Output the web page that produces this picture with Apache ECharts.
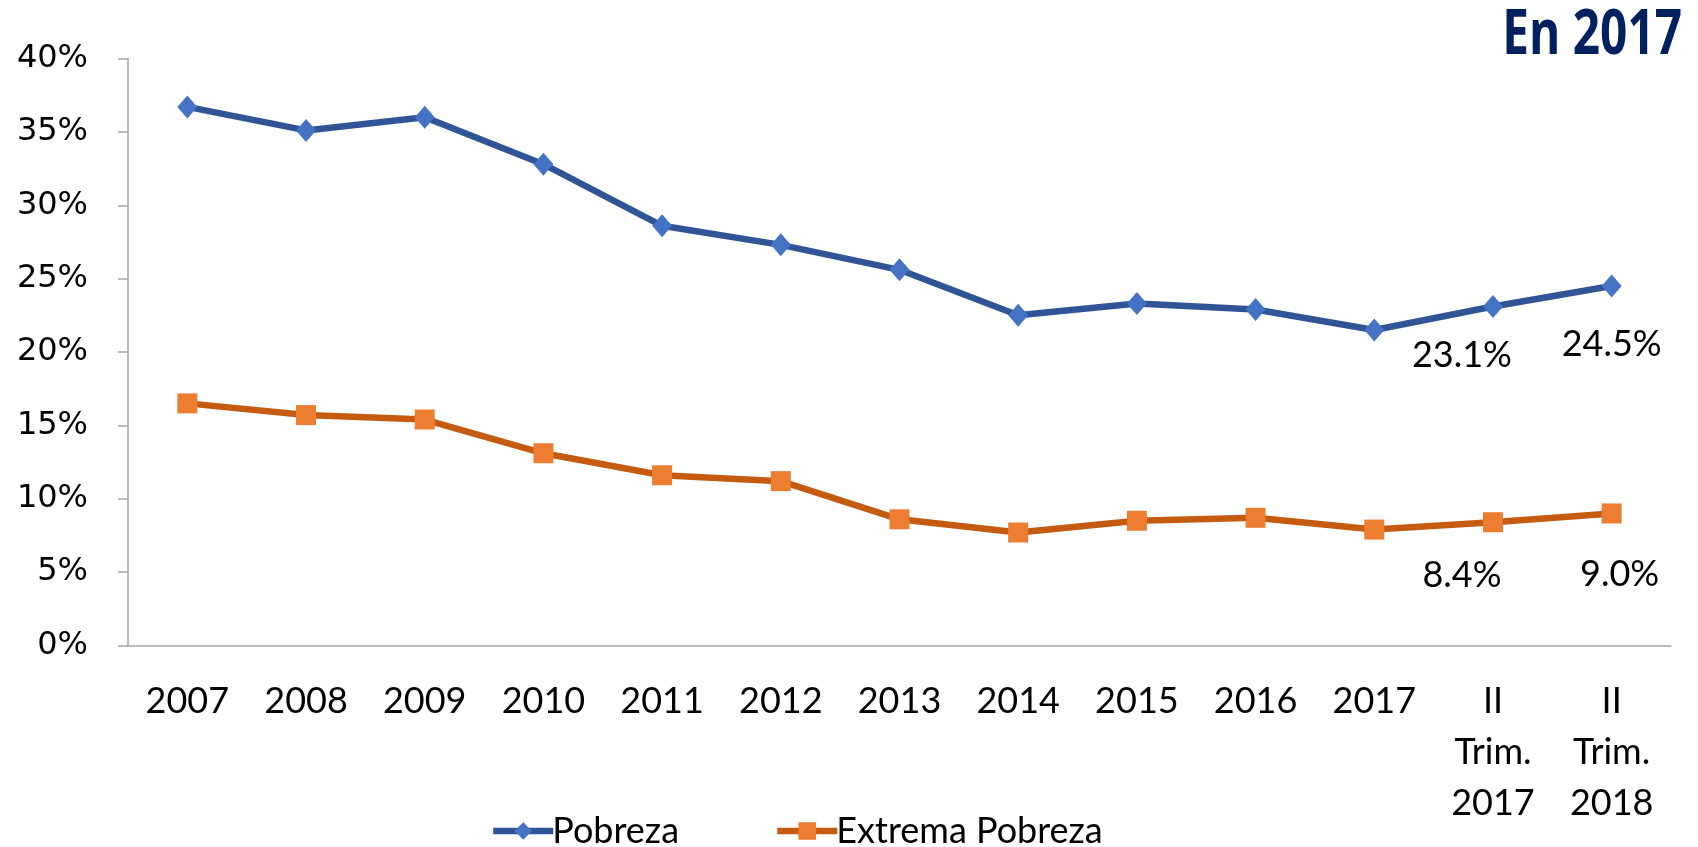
<!DOCTYPE html>
<html>
<head>
<meta charset="utf-8">
<script src="https://cdn.jsdelivr.net/npm/echarts@6/dist/echarts.min.js"></script>
<style>
  html, body { margin: 0; padding: 0; background: #fff; }
  #chart { width: 1698px; height: 847px; }
</style>
</head>
<body>
<div id="chart"></div>
<script>
const categories = ['2007', '2008', '2009', '2010', '2011', '2012', '2013', '2014', '2015', '2016', '2017', 'II\nTrim.\n2017', 'II\nTrim.\n2018'];
const pobreza = [36.7, 35.1, 36.0, 32.8, 28.6, 27.3, 25.6, 22.5, 23.3, 22.9, 21.5, 23.1, 24.5];
const extremaPobreza = [16.5, 15.7, 15.4, 13.1, 11.6, 11.2, 8.6, 7.7, 8.5, 8.7, 7.9, 8.4, 9.0];
const yTicks = [0, 5, 10, 15, 20, 25, 30, 35, 40];

const txtFont = 'Lato';
const axisGray = '#a6a6a6';

// only the two last points carry a label
function withLabels(values, offsets) {
  return values.map((v, i) => {
    if (offsets[i] === undefined) return v;
    return {
      value: v,
      label: {
        show: true,
        position: 'bottom',
        offset: offsets[i],
        formatter: p => p.value.toFixed(1) + '%',
        fontFamily: txtFont,
        fontSize: 36,
        color: '#000'
      }
    };
  });
}

const chart = echarts.init(document.getElementById('chart'));

chart.setOption({
  animation: false,
  backgroundColor: '#fff',
  // condensed heavy title, squeezed horizontally
  graphic: [{
    type: 'text',
    x: 1682,
    y: 5,
    scaleX: 0.77,
    style: {
      text: 'En 2017',
      align: 'right',
      verticalAlign: 'top',
      font: 'bold 62px "Open Sans", sans-serif',
      fill: '#002060'
    }
  }],
  grid: { left: 128, right: 27, top: 58.5, bottom: 201.5 },
  legend: {
    left: 485,
    top: 808,
    itemGap: 95,
    itemWidth: 60,
    itemHeight: 22,
    lineStyle: { width: 6.5 },
    textStyle: { fontFamily: txtFont, fontSize: 36, color: '#000', padding: [0, 0, 0, -6] },
    data: ['Pobreza', 'Extrema Pobreza']
  },
  xAxis: {
    type: 'category',
    data: categories,
    axisLine: { lineStyle: { color: axisGray, width: 1.5 } },
    axisTick: { length: 11, lineStyle: { color: axisGray, width: 1.5 } },
    axisLabel: {
      fontFamily: txtFont,
      fontSize: 36,
      color: '#000',
      lineHeight: 51,
      margin: 30,
      interval: 0
    }
  },
  yAxis: {
    type: 'value',
    min: yTicks[0],
    max: yTicks[yTicks.length - 1],
    interval: 5,
    splitLine: { show: false },
    axisLine: { show: true, lineStyle: { color: axisGray, width: 1.5 } },
    axisTick: { show: true, length: 10, lineStyle: { color: axisGray, width: 1.5 } },
    axisLabel: {
      fontFamily: 'DejaVu Sans',
      fontSize: 32,
      color: '#000',
      margin: 40,
      formatter: '{value}%'
    }
  },
  series: [
    {
      name: 'Pobreza',
      type: 'line',
      data: withLabels(pobreza, { 11: [-31, 14], 12: [0, 24] }),
      symbol: 'diamond',
      symbolSize: [20, 23],
      lineStyle: { color: '#2f5597', width: 6.5 },
      itemStyle: { color: '#4472c4' },
      z: 3
    },
    {
      name: 'Extrema Pobreza',
      type: 'line',
      data: withLabels(extremaPobreza, { 11: [-31, 20], 12: [8, 28] }),
      symbol: 'rect',
      symbolSize: 20,
      lineStyle: { color: '#c55a11', width: 6.5 },
      itemStyle: { color: '#ed7d31' },
      z: 2
    }
  ]
});
</script>
</body>
</html>
